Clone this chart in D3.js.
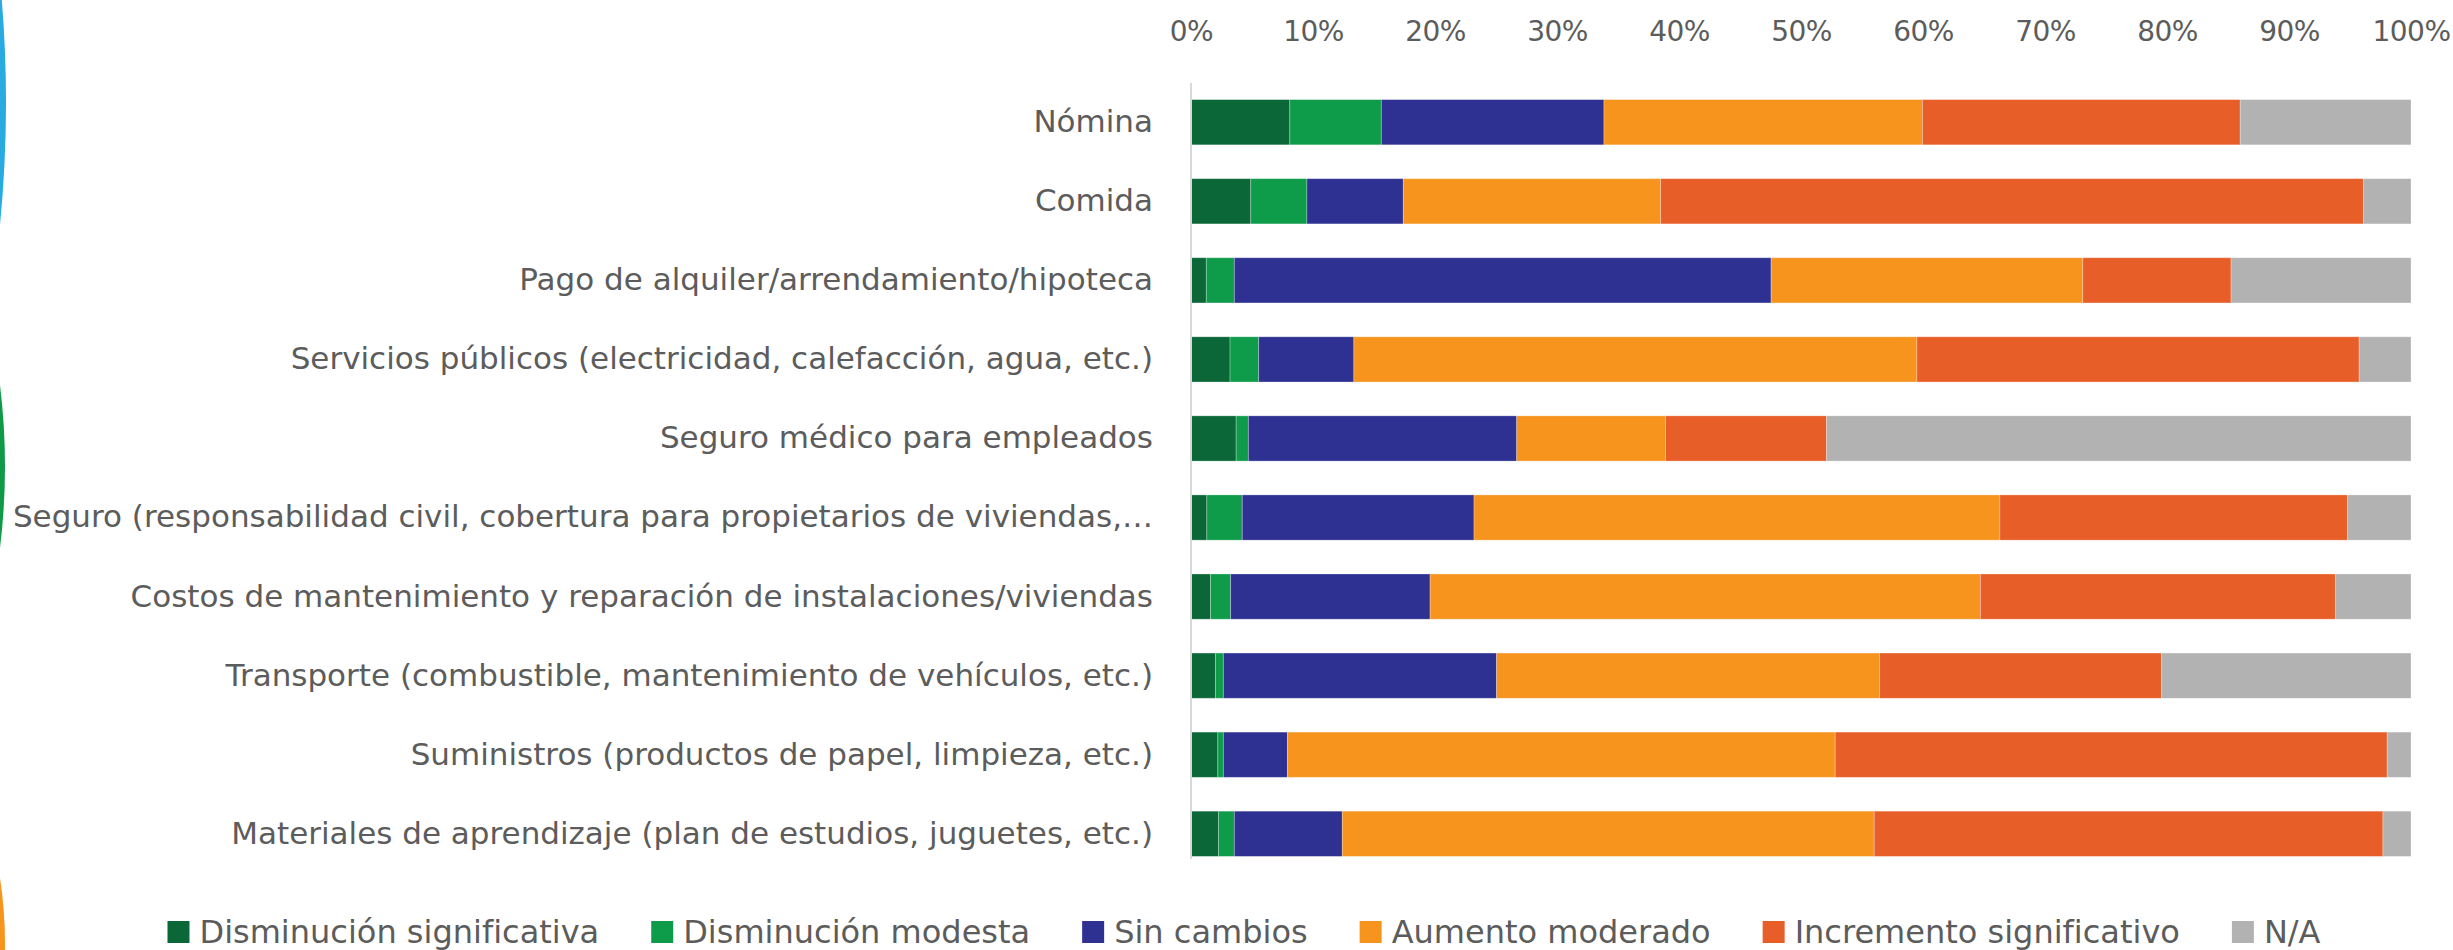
<!DOCTYPE html>
<html lang="es">
  <head>
    <meta charset="UTF-8" />
    <title>Cambios en costos</title>
    <script src="https://d3js.org/d3.v7.min.js"></script>
    <style>
      html,
      body {
        margin: 0;
        overflow: hidden;
        background-color: #ffffff;
      }
      svg {
        display: block;
      }
      /* axis groups carry their own font attrs, so set the font on the text itself */
      .label text {
        font-family: "DejaVu Sans", sans-serif;
        font-size: 31px;
        fill: #5c5c5c;
      }
      .ticks text {
        font-size: 28px;
        letter-spacing: -0.5px;
      }
      .legend text {
        font-size: 32px;
      }
    </style>
  </head>
  <body>
    <div id="chart"></div>

    <script>
      // Categories (top to bottom) and legend names
      const categories = [
        "Nómina",
        "Comida",
        "Pago de alquiler/arrendamiento/hipoteca",
        "Servicios públicos (electricidad, calefacción, agua, etc.)",
        "Seguro médico para empleados",
        "Seguro (responsabilidad civil, cobertura para propietarios de viviendas,…",
        "Costos de mantenimiento y reparación de instalaciones/viviendas",
        "Transporte (combustible, mantenimiento de vehículos, etc.)",
        "Suministros (productos de papel, limpieza, etc.)",
        "Materiales de aprendizaje (plan de estudios, juguetes, etc.)",
      ];
      const seriesNames = [
        "Disminución significativa",
        "Disminución modesta",
        "Sin cambios",
        "Aumento moderado",
        "Incremento significativo",
        "N/A",
      ];
      const colors = ["#0b6738", "#0e9c4b", "#2e3192", "#f6941e", "#e85e28", "#b2b2b2"];

      // Percent of respondents per category
      const sigDecrease = [8.1, 4.9, 1.25, 3.2, 3.7, 1.3, 1.6, 2.0, 2.2, 2.25];
      const modestDecrease = [7.5, 4.6, 2.3, 2.35, 1.0, 2.9, 1.65, 0.65, 0.45, 1.3];
      const noChange = [18.25, 7.9, 44.0, 7.8, 22.0, 19.0, 16.35, 22.4, 5.25, 8.85];
      const moderateIncrease = [26.1, 21.1, 25.55, 46.15, 12.2, 43.1, 45.1, 31.4, 44.9, 43.6];
      const sigIncrease = [26.05, 57.6, 12.15, 36.25, 13.2, 28.5, 29.1, 23.1, 45.25, 41.7];
      const notApplicable = [14.0, 3.9, 14.75, 4.25, 47.9, 5.2, 6.2, 20.45, 1.95, 2.3];

      const xTicks = [0, 10, 20, 30, 40, 50, 60, 70, 80, 90, 100];

      const series = [sigDecrease, modestDecrease, noChange, moderateIncrease, sigIncrease, notApplicable];

      // table for d3.stack
      const table = categories.map((c, i) => {
        const row = { category: c };
        seriesNames.forEach((s, j) => (row[s] = series[j][i]));
        return row;
      });

      const width = 2453,
        height = 950;
      const left = 1191,
        right = 2411;

      const svg = d3
        .select("#chart")
        .append("svg")
        .attr("width", width)
        .attr("height", height);

      // decorative slivers on the left edge
      function sliver(y0, y1, depth) {
        const p = d3.path();
        p.moveTo(0, y0);
        p.quadraticCurveTo(depth * 2, (y0 + y1) / 2, 0, y1);
        p.closePath();
        return p.toString();
      }
      svg.append("path").attr("d", sliver(-20, 225, 6)).attr("fill", "#29abe2");
      svg.append("path").attr("d", sliver(385, 548, 5)).attr("fill", "#109a48");
      svg.append("path").attr("d", sliver(878, 1010, 5)).attr("fill", "#f7941e");

      const x = d3.scaleLinear().domain([0, 100]).range([left, right]);

      const y = d3
        .scaleBand()
        .domain(categories)
        .range([77, 879])
        .paddingInner(0.428)
        .paddingOuter(0.286);

      const stack = d3.stack().keys(seriesNames);
      const stacked = stack(table);

      // bars
      svg
        .append("g")
        .selectAll("g")
        .data(stacked)
        .join("g")
        .attr("fill", (d, i) => colors[i])
        .selectAll("rect")
        .data((d) => d)
        .join("rect")
        .attr("x", (d) => x(d[0]))
        .attr("y", (d) => y(d.data.category))
        .attr("width", (d) => x(d[1]) - x(d[0]))
        .attr("height", y.bandwidth())
        .attr("stroke", "#ffffff")
        .attr("stroke-width", 0.8)
        .attr("stroke-opacity", 0.35);

      // vertical axis line
      svg
        .append("line")
        .attr("x1", left)
        .attr("x2", left)
        .attr("y1", 83)
        .attr("y2", 859)
        .attr("stroke", "#d9d9d9")
        .attr("stroke-width", 2);

      // top axis
      const xAxis = svg
        .append("g")
        .attr("class", "label ticks")
        .attr("transform", "translate(0,52)")
        .call(
          d3
            .axisTop(x)
            .tickValues(xTicks)
            .tickSize(0)
            .tickPadding(11)
            .tickFormat((d) => d + "%")
        );
      xAxis.select(".domain").remove();

      // category labels
      const yAxis = svg
        .append("g")
        .attr("class", "label")
        .attr("transform", "translate(" + left + ",0)")
        .call(d3.axisLeft(y).tickSize(0).tickPadding(38));
      yAxis.select(".domain").remove();

      // legend
      const legend = svg.append("g").attr("class", "label legend");
      let cursor = 0;
      seriesNames.forEach((name, i) => {
        const item = legend.append("g").attr("transform", "translate(" + cursor + ",0)");
        item
          .append("rect")
          .attr("x", 0)
          .attr("y", -11)
          .attr("width", 22)
          .attr("height", 22)
          .attr("fill", colors[i]);
        const t = item.append("text").attr("x", 32).attr("dy", "0.35em").text(name);
        cursor += 32 + t.node().getComputedTextLength() + 52;
      });
      cursor -= 52;
      legend.attr("transform", "translate(" + (1244 - cursor / 2) + ",932)");
    </script>
  </body>
</html>
